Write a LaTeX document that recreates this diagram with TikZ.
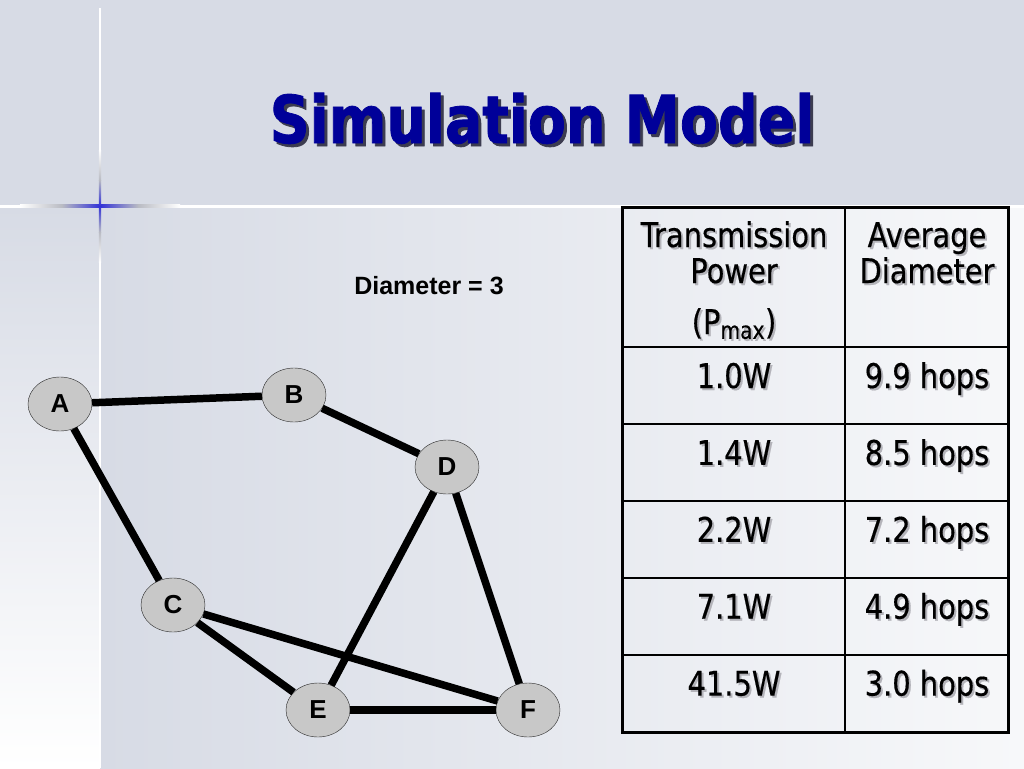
\documentclass[tikz,border=0pt]{standalone}
\usepackage{fontspec}
\setmainfont{DejaVu Sans}[FakeStretch=0.85,FakeBold=0.4]
\newfontfamily\titlefont{DejaVu Sans Bold}[FakeStretch=0.84,FakeBold=1.2]
\newfontfamily\arialfont{Liberation Sans}
\usetikzlibrary{shapes.geometric}
\definecolor{bandbg}{RGB}{215,219,229}
\definecolor{lightend}{RGB}{247,248,250}
\definecolor{navytitle}{RGB}{0,0,153}
\definecolor{nodegray}{RGB}{200,200,200}
\definecolor{glintblue}{RGB}{50,50,215}
\definecolor{glintgray}{RGB}{185,187,195}
\definecolor{titleshade}{RGB}{60,60,80}
\definecolor{cellshade}{RGB}{180,180,186}
\newcommand\shadowed[3]{\makebox[0pt][l]{\hspace{#2}\raisebox{-#2}{\textcolor{#1}{#3}}}#3}
\begin{document}
\begin{tikzpicture}[x=1pt,y=-1pt]
    \tikzstyle{vertex}=[ellipse,draw=black!85,thin,fill=nodegray,minimum width=64pt,minimum height=54pt,inner sep=0pt,font=\arialfont\bfseries\fontsize{26}{26}\selectfont]
    \tikzstyle{link}=[line width=7.5pt]
    \tikzstyle{cell}=[anchor=base,inner sep=0pt,font=\fontsize{34}{36}\selectfont]
    \useasboundingbox (0,0) rectangle (1024,768);
    \fill[bandbg] (0,0) rectangle (1024,206);
    \shade[left color=bandbg,right color=lightend] (100,206) rectangle (1024,768);
    \shade[top color=bandbg,bottom color=white] (0,206) rectangle (100,768);
    \draw[white,line width=3pt] (0,206) -- (1024,206);
    \draw[white,line width=2.5pt] (100,8) -- (100,768);
    \shade[left color=white,right color=glintgray] (20,204.5) rectangle (62,207.5);
    \shade[left color=glintgray,right color=glintblue] (62,204.5) rectangle (100,207.5);
    \shade[left color=glintblue,right color=glintgray] (100,204.5) rectangle (138,207.5);
    \shade[left color=glintgray,right color=white] (138,204.5) rectangle (180,207.5);
    \shade[top color=white,bottom color=glintgray] (98.8,150) rectangle (101.2,180);
    \shade[top color=glintgray,bottom color=glintblue] (98.8,180) rectangle (101.2,206);
    \shade[top color=glintblue,bottom color=glintgray] (98.8,206) rectangle (101.2,232);
    \shade[top color=glintgray,bottom color=white] (98.8,232) rectangle (101.2,262);
    \node[anchor=base,inner sep=0pt,text=navytitle,font=\titlefont\fontsize{66}{66}\selectfont] (title) at (542,143) {\shadowed{titleshade}{3pt}{Simulation Model}};
    \node[anchor=base,inner sep=0pt,font=\arialfont\bfseries\fontsize{25}{25}\selectfont] (diam) at (429,294) {Diameter = 3};
    \node[vertex] (A) at (60,404) {A};
    \node[vertex] (B) at (294,395) {B};
    \node[vertex] (D) at (447,467) {D};
    \node[vertex] (C) at (173,605) {C};
    \node[vertex] (E) at (318,710) {E};
    \node[vertex] (F) at (528,710) {F};
    \foreach \a/\b in {A/B,B/D,A/C,C/E,C/F,D/E,D/F,E/F}
      \draw[link] (\a) -- (\b);
    \draw[line width=1.5pt] (845,207) -- (845,732);
    \foreach \y in {347,424,501,578,655}
      \draw[line width=1.5pt] (622,\y) -- (1008,\y);
    \draw[line width=3pt] (622,207) rectangle (1008,732);
    \node[cell] (hdpw1) at (734,247) {\shadowed{cellshade}{2pt}{Transmission}};
    \node[cell] (hdpw2) at (734,283) {\shadowed{cellshade}{2pt}{Power}};
    \node[cell] (hdpw3) at (734,334) {\shadowed{cellshade}{2pt}{(P\textsubscript{max})}};
    \node[cell] (hddm1) at (927,247) {\shadowed{cellshade}{2pt}{Average}};
    \node[cell] (hddm2) at (927,283) {\shadowed{cellshade}{2pt}{Diameter}};
    \foreach \pw/\dm [count=\r] in {1.0W/9.9 hops,1.4W/8.5 hops,2.2W/7.2 hops,7.1W/4.9 hops,41.5W/3.0 hops}
    {
      \node[cell] (pw\r) at (734,388+76.9*\r-76.9) {\shadowed{cellshade}{2pt}{\pw}};
      \node[cell] (dm\r) at (927,388+76.9*\r-76.9) {\shadowed{cellshade}{2pt}{\dm}};
    }
\end{tikzpicture}
\end{document}
